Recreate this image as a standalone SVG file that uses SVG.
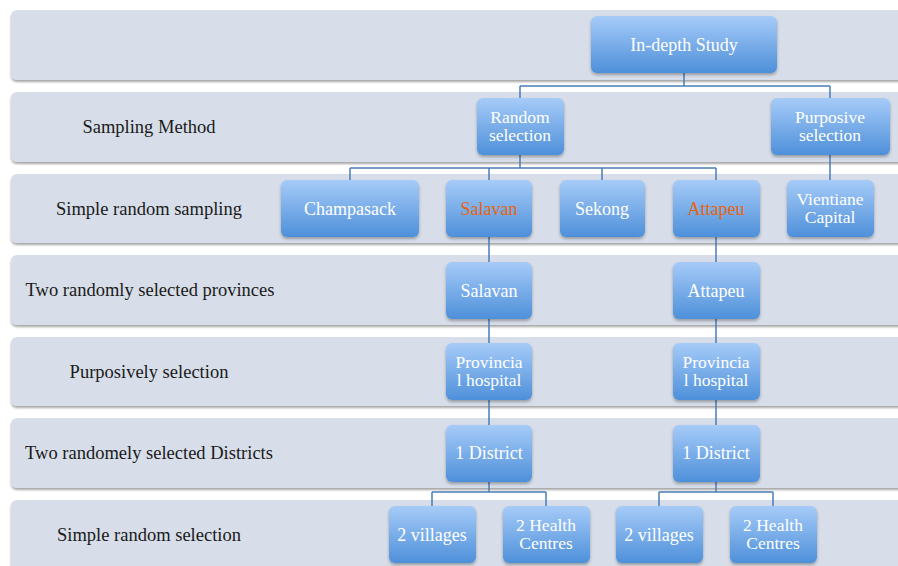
<svg xmlns="http://www.w3.org/2000/svg" width="898" height="566" viewBox="0 0 898 566">
<defs>
<linearGradient id="ng" x1="0" y1="0" x2="0" y2="1">
<stop offset="0" stop-color="#a6cbf8"/>
<stop offset="1" stop-color="#4e90da"/>
</linearGradient>
<filter id="sh" x="-10%" y="-10%" width="120%" height="130%">
<feDropShadow dx="0" dy="2" stdDeviation="1.5" flood-color="#000" flood-opacity="0.3"/>
</filter>
<filter id="bs" x="-5%" y="-10%" width="110%" height="130%">
<feDropShadow dx="0" dy="2" stdDeviation="1" flood-color="#000" flood-opacity="0.35"/>
</filter>
</defs>
<style>
.band{fill:#d7dee9;filter:url(#bs)}
.node{fill:url(#ng);filter:url(#sh)}
.lbl{font-family:"Liberation Serif","Times New Roman",serif;font-size:18.5px;fill:#1a1a1a;text-anchor:middle}
.nt{font-family:"Liberation Serif","Times New Roman",serif;font-size:18px;fill:#ffffff;text-anchor:middle}
.n2{font-size:17.5px}
.or{fill:#e8640f}
.con{fill:none;stroke:#4a7db5;stroke-width:1.5}
</style>
<rect width="898" height="566" fill="#ffffff"/>
<g id="bands">
<rect class="band" x="11" y="10" width="900" height="70" rx="6"/>
<rect class="band" x="11" y="92" width="900" height="70" rx="6"/>
<rect class="band" x="11" y="174" width="900" height="69" rx="6"/>
<rect class="band" x="11" y="255" width="900" height="70" rx="6"/>
<rect class="band" x="11" y="337" width="900" height="69" rx="6"/>
<rect class="band" x="11" y="418" width="900" height="70" rx="6"/>
<rect class="band" x="11" y="500" width="900" height="80" rx="6"/>
</g>
<g id="band-labels">
<text class="lbl" x="149" y="133">Sampling Method</text>
<text class="lbl" x="149" y="215">Simple random sampling</text>
<text class="lbl" x="150" y="296">Two randomly selected provinces</text>
<text class="lbl" x="149" y="378">Purposively selection</text>
<text class="lbl" x="149" y="459">Two randomely selected Districts</text>
<text class="lbl" x="149" y="541">Simple random selection</text>
</g>
<g id="connectors">
<path class="con" d="M684,73 V86 M520,86 H830 M520,86 V98 M830,86 V98"/>
<path class="con" d="M520,155 V168 M350,168 H716 M350,168 V180 M489,168 V180 M602,168 V180 M716,168 V180"/>
<path class="con" d="M830,155 V180"/>
<path class="con" d="M489,237 V262 M489,319 V343 M489,400 V425"/>
<path class="con" d="M716,237 V262 M716,319 V343 M716,400 V425"/>
<path class="con" d="M489,482 V492 M432,492 H546 M432,492 V506 M546,492 V506"/>
<path class="con" d="M716,482 V492 M659,492 H773 M659,492 V506 M773,492 V506"/>
</g>
<g id="n-indepth"><rect class="node" x="591" y="16" width="186" height="57" rx="6"/><text class="nt" x="684" y="51">In-depth Study</text></g>
<g id="n-random"><rect class="node" x="477" y="98" width="87" height="57" rx="6"/><text class="nt n2" x="520" y="123">Random</text><text class="nt n2" x="520" y="141">selection</text></g>
<g id="n-purposive"><rect class="node" x="771" y="98" width="119" height="57" rx="6"/><text class="nt n2" x="830" y="123">Purposive</text><text class="nt n2" x="830" y="141">selection</text></g>
<g id="n-champasack"><rect class="node" x="281" y="180" width="138" height="57" rx="6"/><text class="nt" x="350" y="215">Champasack</text></g>
<g id="n-salavan1"><rect class="node" x="446" y="180" width="86" height="57" rx="6"/><text class="nt or" x="489" y="215">Salavan</text></g>
<g id="n-sekong"><rect class="node" x="560" y="180" width="85" height="57" rx="6"/><text class="nt" x="602" y="215">Sekong</text></g>
<g id="n-attapeu1"><rect class="node" x="673" y="180" width="87" height="57" rx="6"/><text class="nt or" x="716" y="215">Attapeu</text></g>
<g id="n-vientiane"><rect class="node" x="787" y="180" width="87" height="57" rx="6"/><text class="nt n2" x="830" y="205">Vientiane</text><text class="nt n2" x="830" y="223">Capital</text></g>
<g id="n-salavan2"><rect class="node" x="446" y="262" width="86" height="57" rx="6"/><text class="nt" x="489" y="297">Salavan</text></g>
<g id="n-attapeu2"><rect class="node" x="673" y="262" width="87" height="57" rx="6"/><text class="nt" x="716" y="297">Attapeu</text></g>
<g id="n-hosp1"><rect class="node" x="446" y="343" width="86" height="57" rx="6"/><text class="nt n2" x="489" y="368">Provincia</text><text class="nt n2" x="489" y="386">l hospital</text></g>
<g id="n-hosp2"><rect class="node" x="673" y="343" width="87" height="57" rx="6"/><text class="nt n2" x="716" y="368">Provincia</text><text class="nt n2" x="716" y="386">l hospital</text></g>
<g id="n-district1"><rect class="node" x="446" y="425" width="86" height="57" rx="6"/><text class="nt" x="489" y="459">1 District</text></g>
<g id="n-district2"><rect class="node" x="673" y="425" width="87" height="57" rx="6"/><text class="nt" x="716" y="459">1 District</text></g>
<g id="n-vill1"><rect class="node" x="389" y="506" width="87" height="57" rx="6"/><text class="nt" x="432" y="541">2 villages</text></g>
<g id="n-hc1"><rect class="node" x="503" y="506" width="87" height="57" rx="6"/><text class="nt n2" x="546" y="531">2 Health</text><text class="nt n2" x="546" y="549">Centres</text></g>
<g id="n-vill2"><rect class="node" x="616" y="506" width="87" height="57" rx="6"/><text class="nt" x="659" y="541">2 villages</text></g>
<g id="n-hc2"><rect class="node" x="730" y="506" width="87" height="57" rx="6"/><text class="nt n2" x="773" y="531">2 Health</text><text class="nt n2" x="773" y="549">Centres</text></g>
</svg>
